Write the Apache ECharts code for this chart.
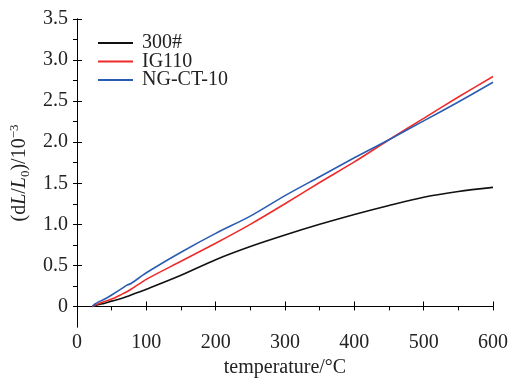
<!DOCTYPE html>
<html>
<head>
<meta charset="utf-8">
<script src="https://cdn.jsdelivr.net/npm/echarts@6/dist/echarts.min.js"></script>
<style>html,body{margin:0;padding:0;background:#fff;}#c{width:518px;height:378px;}</style>
</head>
<body>
<div id="c"></div>
<script>
const temperature = [22, 26, 30, 40, 50, 65, 72, 78, 100, 150, 200, 250, 300, 350, 400, 450, 500, 550, 600];
const s300 =   [0, 0.01, 0.02, 0.04, 0.065, 0.10, 0.12, 0.14, 0.21, 0.38, 0.57, 0.73, 0.87, 1.0, 1.12, 1.23, 1.33, 1.40, 1.45];
const sIG110 = [0, 0.015, 0.03, 0.06, 0.09, 0.15, 0.18, 0.21, 0.33, 0.55, 0.77, 1.0, 1.25, 1.51, 1.76, 2.03, 2.29, 2.55, 2.80];
const sNGCT =  [0, 0.03, 0.05, 0.09, 0.14, 0.22, 0.26, 0.28, 0.41, 0.66, 0.89, 1.10, 1.35, 1.58, 1.81, 2.03, 2.26, 2.49, 2.73];
const seriesNames = ['300#', 'IG110', 'NG-CT-10'];
const xTicks = [0, 100, 200, 300, 400, 500, 600];
const xTopTicks = [0, 50, 100, 150, 200, 250, 300, 350, 400, 450, 500, 550, 600];
const yTicks = [0, 0.5, 1.0, 1.5, 2.0, 2.5, 3.0, 3.5];
const yRightTicks = [0, 0.25, 0.5, 0.75, 1.0, 1.25, 1.5, 1.75, 2.0, 2.25, 2.5, 2.75, 3.0, 3.25, 3.5];

const FONT = '"Liberation Serif","Times New Roman",serif';
const txt = '#222';
const FS = 20;
const pairs = arr => temperature.map((t, i) => [t, arr[i]]);

const chart = echarts.init(document.getElementById('c'), null, {renderer: 'canvas'});
chart.setOption({
  animation: false,
  backgroundColor: '#fff',
  grid: {left: 77, right: 25, top: 19, bottom: 51, containLabel: false, outerBoundsMode: 'none'},
  legend: {
    orient: 'vertical', left: 93, top: 28, itemWidth: 35, itemHeight: 2, itemGap: -1.5,
    icon: 'rect',
    data: seriesNames,
    textStyle: {fontFamily: FONT, fontSize: FS, color: txt, lineHeight: 18.5, padding: [0, 0, 0, 4]}
  },
  xAxis: [{
    type: 'value', min: 0, max: 600, interval: 100, position: 'bottom',
    name: 'temperature/°C', nameLocation: 'middle', nameGap: 21,
    nameTextStyle: {fontFamily: FONT, fontSize: FS, color: txt},
    axisLine: {show: true, lineStyle: {color: '#000', width: 1}},
    axisTick: {show: true, inside: true, length: 5, customValues: xTicks, lineStyle: {color: '#000'}},
    axisLabel: {fontFamily: FONT, fontSize: FS, color: txt, margin: 6, customValues: xTicks},
    splitLine: {show: false}
  }, {
    type: 'value', min: 0, max: 600, interval: 50, position: 'top',
    axisLine: {show: true, lineStyle: {color: '#000', width: 1}},
    axisTick: {show: true, inside: true, length: 4, customValues: xTopTicks, lineStyle: {color: '#000'}},
    axisLabel: {show: false}, splitLine: {show: false}
  }],
  yAxis: [{
    type: 'value', min: -0.25, max: 3.5, position: 'left',
    name: '(d{i|L}/{i|L}{sub|0})/10{sup|−3}', nameLocation: 'middle', nameGap: 44,
    nameTextStyle: {
      fontFamily: FONT, fontSize: FS, color: txt,
      rich: {
        i: {fontFamily: FONT, fontSize: FS, fontStyle: 'italic', color: txt},
        sub: {fontFamily: FONT, fontSize: 13, color: txt, verticalAlign: 'bottom', lineHeight: 24},
        sup: {fontFamily: FONT, fontSize: 13, color: txt, verticalAlign: 'top', lineHeight: 24}
      }
    },
    axisLine: {show: true, lineStyle: {color: '#000', width: 1}},
    axisTick: {show: true, inside: true, length: 5, customValues: yTicks, lineStyle: {color: '#000'}},
    axisLabel: {fontFamily: FONT, fontSize: FS, color: txt, margin: 9, customValues: yTicks,
      formatter: v => v === 0 ? '0' : v.toFixed(1)},
    splitLine: {show: false}
  }, {
    type: 'value', min: -0.25, max: 3.5, position: 'right',
    axisLine: {show: true, lineStyle: {color: '#000', width: 1}},
    axisTick: {show: true, inside: true, length: 4, customValues: yRightTicks, lineStyle: {color: '#000'}},
    axisLabel: {show: false}, splitLine: {show: false}
  }],
  series: [
    {name: seriesNames[0], type: 'line', data: pairs(s300), symbol: 'none', smooth: 0.3,
     lineStyle: {color: '#111', width: 1.6}, itemStyle: {color: '#111'}},
    {name: seriesNames[1], type: 'line', data: pairs(sIG110), symbol: 'none', smooth: 0.3,
     lineStyle: {color: '#ee2b2b', width: 1.6}, itemStyle: {color: '#ee2b2b'}},
    {name: seriesNames[2], type: 'line', data: pairs(sNGCT), symbol: 'none', smooth: 0.3,
     lineStyle: {color: '#2b5cb3', width: 1.6}, itemStyle: {color: '#2b5cb3'}}
  ]
});
</script>
</body>
</html>
